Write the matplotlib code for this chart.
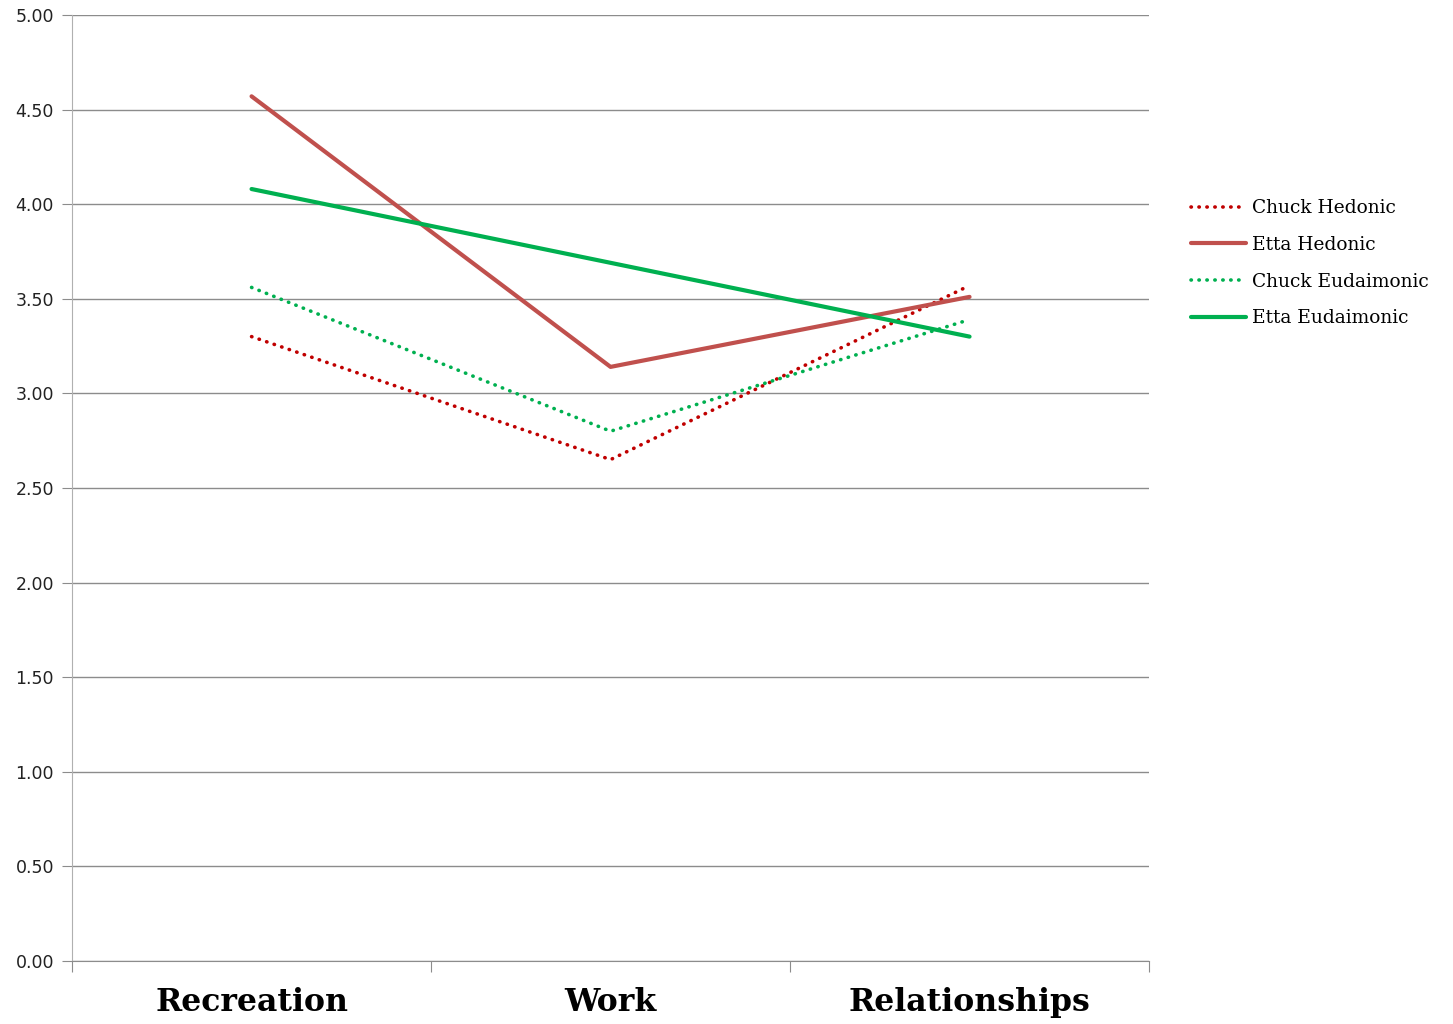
import matplotlib
matplotlib.use("Agg")
import matplotlib.pyplot as plt
from matplotlib.ticker import FixedLocator

categories = ["Recreation", "Work", "Relationships"]
chuck_hedonic = [3.30, 2.65, 3.57]
etta_hedonic = [4.57, 3.14, 3.51]
chuck_eudaimonic = [3.56, 2.80, 3.39]
etta_eudaimonic = [4.08, 3.69, 3.30]
y_ticks = [0.0, 0.5, 1.0, 1.5, 2.0, 2.5, 3.0, 3.5, 4.0, 4.5, 5.0]

fig = plt.figure(figsize=(14.53, 10.24), dpi=100)
ax = fig.add_axes([0.0496, 0.0615, 0.7412, 0.9239])

x = [0.5, 1.5, 2.5]
dot_style = (0, (0.1, 2.1))
ax.plot(x, chuck_hedonic, color="#C00000", lw=2.6, linestyle=dot_style,
        dash_capstyle="round", label="Chuck Hedonic", zorder=3)
ax.plot(x, etta_hedonic, color="#C0504D", lw=3.0, label="Etta Hedonic",
        solid_capstyle="round", zorder=3)
ax.plot(x, chuck_eudaimonic, color="#00B050", lw=2.6, linestyle=dot_style,
        dash_capstyle="round", label="Chuck Eudaimonic", zorder=3)
ax.plot(x, etta_eudaimonic, color="#00B050", lw=3.0, label="Etta Eudaimonic",
        solid_capstyle="round", zorder=3)

ax.set_xlim(0, 3)
ax.set_ylim(0, 5)
ax.set_yticks(y_ticks)
ax.set_yticklabels([f"{v:.2f}" for v in y_ticks], fontfamily="DejaVu Sans",
                   fontsize=12.5, color="#222222")
ax.yaxis.grid(True, color="#8C8C8C", lw=1.0)
ax.set_axisbelow(True)

# category labels sit between the boundary ticks
ax.xaxis.set_major_locator(FixedLocator([0, 1, 2, 3]))
ax.set_xticklabels([])
ax.set_xticks(x, minor=True)
ax.set_xticklabels(categories, minor=True, fontfamily="DejaVu Serif",
                   fontweight="bold", fontsize=22.7)
ax.tick_params(axis="x", which="minor", length=0, pad=19)
ax.tick_params(axis="x", which="major", length=8, color="#8C8C8C", direction="out")
ax.tick_params(axis="y", length=7, color="#8C8C8C", pad=6)

for side in ("top", "right"):
    ax.spines[side].set_visible(False)
ax.spines["left"].set_color("#B0B0B0")
ax.spines["bottom"].set_color("#8C8C8C")

fig.legend(loc="upper left", bbox_to_anchor=(0.808, 0.822), frameon=False,
           prop={"family": "DejaVu Serif", "size": 13.4}, handlelength=2.95,
           handletextpad=0.35, labelspacing=1.01)

fig.savefig("out.png", dpi=100, facecolor="white")
